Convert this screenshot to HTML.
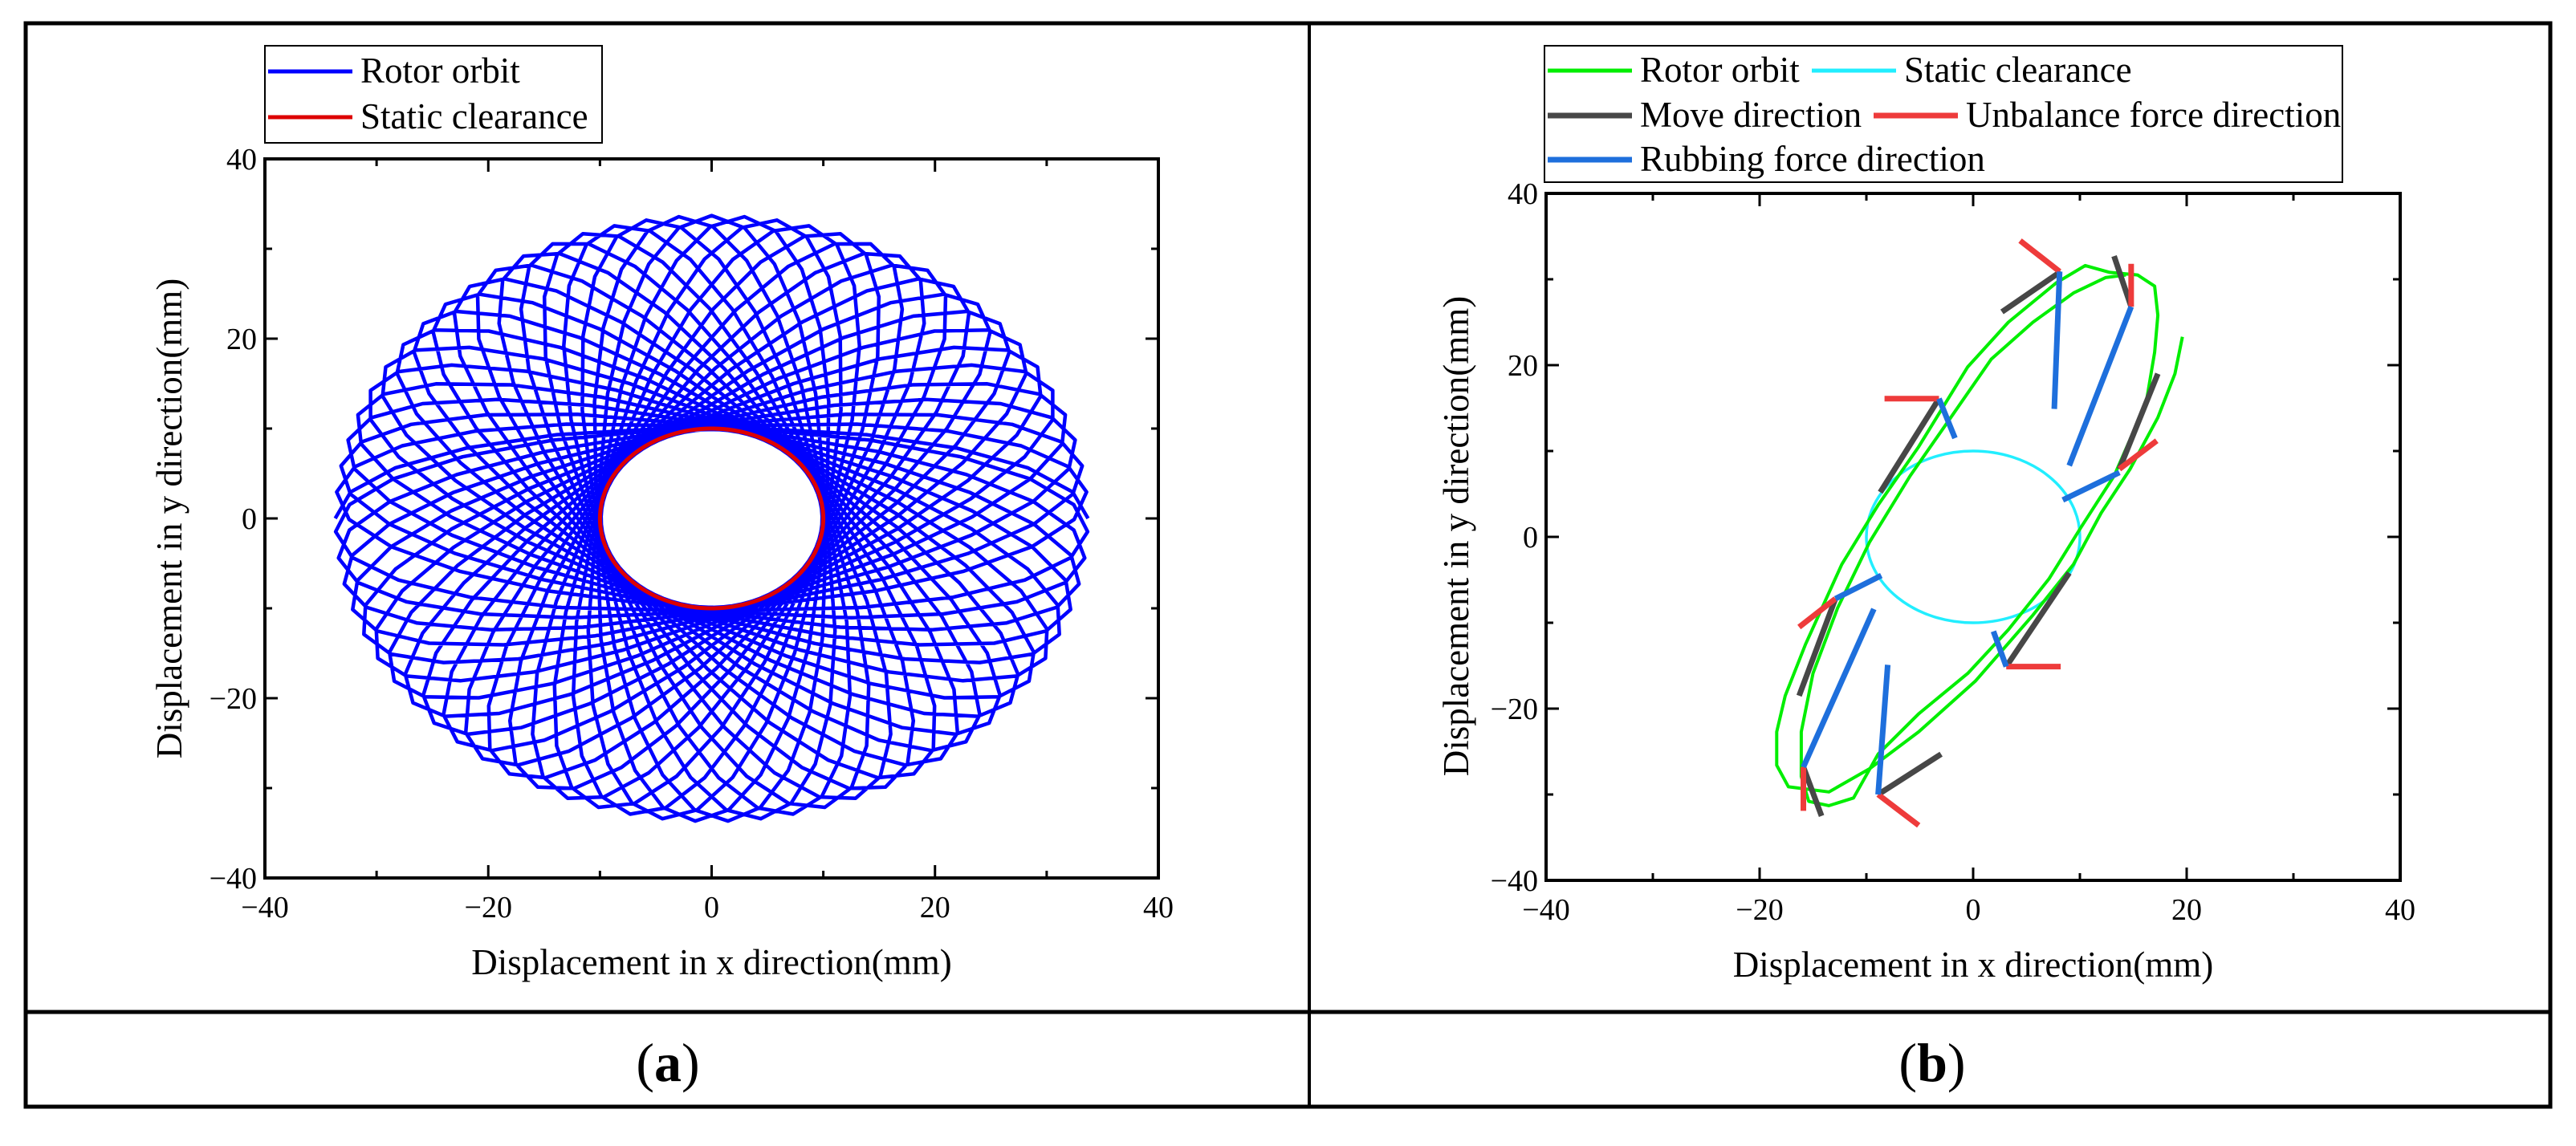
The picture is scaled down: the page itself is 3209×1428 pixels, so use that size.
<!DOCTYPE html>
<html><head><meta charset="utf-8"><style>
html,body{margin:0;padding:0;background:#fff;}
svg{display:block;}
text{font-family:"Liberation Serif","Times New Roman","DejaVu Serif",serif;}
</style></head><body>
<svg id="fig" width="3209" height="1428" viewBox="0 0 3209 1428" xmlns="http://www.w3.org/2000/svg" font-family="Liberation Serif, serif">
<rect x="32" y="29" width="3145" height="1350" fill="none" stroke="#000" stroke-width="5"/>
<line x1="32" y1="1261" x2="3177" y2="1261" stroke="#000" stroke-width="5"/>
<line x1="1631" y1="29" x2="1631" y2="1379" stroke="#000" stroke-width="4"/>
<text x="832" y="1347" font-size="68" text-anchor="middle" font-family="Liberation Serif, serif">(<tspan font-weight="bold">a</tspan>)</text>
<text x="2407" y="1347" font-size="68" text-anchor="middle" font-family="Liberation Serif, serif">(<tspan font-weight="bold">b</tspan>)</text>
<g id="pa"></g>
<g id="pb"></g>
</svg>
<script>
// ---- data ----
const xTicks = [-40, -20, 0, 20, 40];
const yTicks = [-40, -20, 0, 20, 40];
const clearanceRadius = 10;
// panel a: precessing orbit parameters (semi-axes) and ellipse count
const orbitA_major = 33.7;
const orbitA_minor = 10;
const orbitA_loops = 36;
// panel b rotor orbit (x, y in mm)
const orbitBx = [19.6,18.9,17.3,14.7,12,9.4,5.6,0.2,-5.1,-9.7,-13.5,-17.3,-18.4,-18.4,-17.6,-15.7,-12.3,-8.9,-5.1,-0.5,3.3,7.8,10.5,12.8,15.4,17,17.3,17,16.2,13.2,10.1,7.1,3.3,-0.5,-5.1,-8.9,-11.2,-13.5,-15.4,-16.1,-16.1,-15,-12.7,-9.7,-5.9,-2.1,1.7,5.6,9.4,12.4,14.3];
const orbitBy = [23.3,19,13.9,7.9,2.8,-3.2,-9.1,-16.8,-22.7,-27,-29.7,-29.1,-26.6,-22.7,-18.5,-12.5,-3.2,3.7,10.5,19.8,25,29.6,31.6,30.8,30.5,29.2,25.8,21.5,15.6,7.1,1.1,-4.9,-10.8,-15.9,-20.6,-25.3,-30.4,-31.3,-30.8,-27.9,-22.7,-15.9,-8.3,-0.6,7.1,13.9,20.7,25,28.4,30.2,30.5];
// direction segments [x1,y1,x2,y2]
const moveSegs = [[2.7,26.2,8.2,30.9],[13.2,32.7,14.8,26.8],[17.3,19,13.7,7.9],[9,-4.2,3.1,-15.1],[-3,-25.3,-8.9,-30],[-14.2,-32.5,-15.9,-26.8],[-16.3,-18.5,-12.9,-7.2],[-8.7,5.2,-3.2,16.1]];
const unbalSegs = [[4.4,34.5,8.1,30.9],[14.8,31.8,14.8,26.8],[17.2,11.2,13.7,7.9],[8.2,-15.1,3.1,-15.1],[-5.1,-33.6,-8.9,-30],[-15.9,-31.9,-15.9,-26.8],[-16.3,-10.5,-12.9,-7.2],[-8.3,16.1,-3.2,16.1]];
const rubSegs = [[8.1,30.9,7.6,14.9],[14.8,26.8,9,8.3],[13.7,7.5,8.4,4.3],[3.1,-15.1,1.9,-11],[-8.9,-30,-8,-14.9],[-15.9,-26.8,-9.3,-8.4],[-12.9,-7.2,-8.6,-4.5],[-3.2,16.1,-1.7,11.5]];

const NS="http://www.w3.org/2000/svg";
const FONT='"Liberation Serif", "Times New Roman", serif';
function mk(parent,tag,attrs){const e=document.createElementNS(NS,tag);for(const k in attrs)e.setAttribute(k,attrs[k]);if(tag==='text')e.setAttribute('font-family',FONT);parent.appendChild(e);return e;}

function axes(g,L,R,T,B){
  const sx=v=>L+(v+40)/80*(R-L), sy=v=>B-(v+40)/80*(B-T);
  for(let v=-30;v<=30;v+=10){
    const major=v%20===0, len=major?16:9;
    let t=mk(g,'line',{x1:sx(v),y1:B,x2:sx(v),y2:B-len,stroke:'#000','stroke-width':3});
    
    
    t=mk(g,'line',{x1:sx(v),y1:T,x2:sx(v),y2:T+len,stroke:'#000','stroke-width':3});
    
    
    t=mk(g,'line',{x1:L,y1:sy(v),x2:L+len,y2:sy(v),stroke:'#000','stroke-width':3});
    
    
    t=mk(g,'line',{x1:R,y1:sy(v),x2:R-len,y2:sy(v),stroke:'#000','stroke-width':3});
    
    
  }
  xTicks.forEach(v=>{const t=mk(g,'text',{x:sx(v),y:B+49,'font-size':38,'text-anchor':'middle'});t.textContent=v<0?'\u2212'+(-v):v;
    
    });
  yTicks.forEach(v=>{const t=mk(g,'text',{x:L-10,y:sy(v)+13,'font-size':38,'text-anchor':'end'});t.textContent=v<0?'\u2212'+(-v):v;
    
    });
  const xt=mk(g,'text',{x:(L+R)/2,y:B+120,'font-size':45,'text-anchor':'middle'});xt.textContent='Displacement in x direction(mm)';
  
  
  return {sx,sy,frame:()=>{const f=mk(g,'rect',{x:L,y:T,width:R-L,height:B-T,fill:'none',stroke:'#000','stroke-width':4});
    
    }};
}
function ytitle(g,x,y){const t=mk(g,'text',{x:x,y:y,'font-size':45,'text-anchor':'middle',transform:`rotate(-90 ${x} ${y})`});t.textContent='Displacement in y direction(mm)';
  
  }
function legendEntry(g,x,y,color,w,label){
  const l=mk(g,'line',{x1:x,y1:y,x2:x+105,y2:y,stroke:color,'stroke-width':w});
  
  
  const t=mk(g,'text',{x:x+115,y:y+14,'font-size':45});t.textContent=label;
  
  
}

// ---- panel a ----
(function(){
  const g=document.getElementById('pa');
  const L=330,R=1443,T=198,B=1094;
  const ax=axes(g,L,R,T,B);
  ytitle(g,226,646);
  const a=(orbitA_major+orbitA_minor)/2, b=(orbitA_major-orbitA_minor)/2;
  const N=orbitA_loops, per=22, eps=0.5/N;
  let d='';
  for(let i=0;i<=N*per;i++){
    const t=i/per*2*Math.PI;
    const x=a*Math.cos((1+eps)*t)+b*Math.cos(-(1-eps)*t);
    const y=a*Math.sin((1+eps)*t)+b*Math.sin(-(1-eps)*t);
    d+=(i?'L':'M')+ax.sx(x).toFixed(1)+' '+ax.sy(y).toFixed(1);
  }
  const p=mk(g,'path',{d:d,fill:'none',stroke:'#0000ff','stroke-width':4.5,'stroke-linejoin':'round'});
  
  
  const c=mk(g,'ellipse',{cx:ax.sx(0),cy:ax.sy(0),rx:ax.sx(clearanceRadius)-ax.sx(0),ry:ax.sy(0)-ax.sy(clearanceRadius),fill:'none',stroke:'#dd0000','stroke-width':5});
  
  
  ax.frame();
  const lg=mk(g,'g',{});
  
  
  mk(lg,'rect',{x:330,y:57,width:420,height:121,fill:'#fff',stroke:'#000','stroke-width':2});
  legendEntry(lg,334,89,'#0000ff',5,'Rotor orbit');
  legendEntry(lg,334,146,'#dd0000',5,'Static clearance');
})();

// ---- panel b ----
(function(){
  const g=document.getElementById('pb');
  const L=1926,R=2990,T=241,B=1097;
  const ax=axes(g,L,R,T,B);
  ytitle(g,1829,668);
  const c=mk(g,'ellipse',{cx:ax.sx(0),cy:ax.sy(0),rx:ax.sx(clearanceRadius)-ax.sx(0),ry:ax.sy(0)-ax.sy(clearanceRadius),fill:'none',stroke:'#22eeff','stroke-width':3.5});
  
  
  let d='';
  orbitBx.forEach((x,i)=>{d+=(i?'L':'M')+ax.sx(x).toFixed(1)+' '+ax.sy(orbitBy[i]).toFixed(1);});
  const p=mk(g,'path',{d:d,fill:'none',stroke:'#00ee00','stroke-width':4,'stroke-linejoin':'round'});
  
  
  function segs(arr,color,name){
    arr.forEach(s=>{const l=mk(g,'line',{x1:ax.sx(s[0]),y1:ax.sy(s[1]),x2:ax.sx(s[2]),y2:ax.sy(s[3]),stroke:color,'stroke-width':7});
      
      });
  }
  segs(moveSegs,'#474747','move-direction');
  segs(unbalSegs,'#ee3b3b','unbalance-force-direction');
  segs(rubSegs,'#1e6fdc','rubbing-force-direction');
  ax.frame();
  const lg=mk(g,'g',{});
  
  
  mk(lg,'rect',{x:1924,y:57,width:994,height:170,fill:'#fff',stroke:'#000','stroke-width':2});
  legendEntry(lg,1928,88,'#00ee00',5,'Rotor orbit');
  legendEntry(lg,2257,88,'#22eeff',5,'Static clearance');
  legendEntry(lg,1928,144,'#474747',7,'Move direction');
  legendEntry(lg,2334,144,'#ee3b3b',7,'Unbalance force direction');
  legendEntry(lg,1928,199,'#1e6fdc',7,'Rubbing force direction');
})();
</script>
</body></html>
